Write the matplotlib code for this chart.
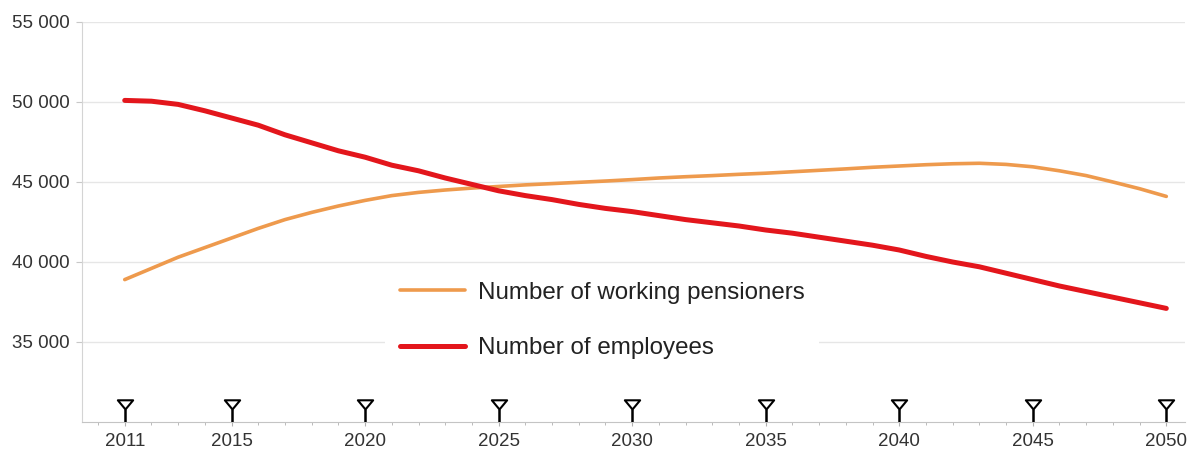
import numpy as np
import matplotlib.pyplot as plt
from matplotlib.path import Path
from matplotlib.ticker import FuncFormatter, MultipleLocator

# values
years = list(range(2011, 2051))
pensioners = [38900, 39600, 40300, 40900, 41500, 42100, 42650, 43100, 43500, 43850,
              44150, 44350, 44500, 44620, 44720, 44820, 44900, 44980, 45060, 45150,
              45250, 45330, 45400, 45480, 45550, 45640, 45730, 45820, 45920, 46000,
              46080, 46140, 46170, 46100, 45950, 45700, 45400, 45000, 44580, 44100]
employees = [50100, 50050, 49850, 49450, 49000, 48550, 47950, 47450, 46950, 46550,
             46050, 45700, 45250, 44850, 44450, 44150, 43900, 43600, 43350, 43150,
             42900, 42650, 42450, 42250, 42000, 41800, 41550, 41300, 41050, 40750,
             40350, 40000, 39700, 39300, 38900, 38500, 38150, 37800, 37450, 37100]
tick_years = [2011, 2015, 2020, 2025, 2030, 2035, 2040, 2045, 2050]
y_ticks = [35000, 40000, 45000, 50000, 55000]
labels = ["Number of working pensioners", "Number of employees"]

plt.rcParams['font.family'] = ['Liberation Sans', 'DejaVu Sans']

fig = plt.figure(figsize=(11.98, 4.5), dpi=100)
ax = fig.add_axes([82 / 1198, 1 - 422 / 450, (1185 - 82) / 1198, 400 / 450])

ax.plot(years, pensioners, color='#ee9a4d', lw=2.6, solid_capstyle='round', label=labels[0], zorder=3)
ax.plot(years, employees, color='#e3161c', lw=3.6, solid_capstyle='round', label=labels[1], zorder=4)

# hollow triangle pins above the axis
tri = Path([(-1.0, 0.55), (1.0, 0.55), (0.0, -0.65), (-1.0, 0.55)],
           [Path.MOVETO, Path.LINETO, Path.LINETO, Path.CLOSEPOLY])
ax.vlines(tick_years, 30000, 30800, color='black', lw=1.8, zorder=5)
ax.plot(tick_years, [31100] * len(tick_years), linestyle='none', marker=tri, markersize=11,
        mfc='white', mec='black', mew=1.5, zorder=6, clip_on=False)

ax.set_xlim(2009.4, 2050.7)
ax.set_ylim(30000, 55000)
ax.set_xticks(tick_years)
ax.xaxis.set_minor_locator(MultipleLocator(1))
ax.set_yticks(y_ticks)
ax.yaxis.set_major_formatter(FuncFormatter(lambda v, p: f"{int(v):,}".replace(",", " ")))

ax.grid(axis='y', color='#e6e6e6', lw=1.0, zorder=0)
for s in ['top', 'right']:
    ax.spines[s].set_visible(False)
ax.spines['left'].set_color('#d4d4d4')
ax.spines['bottom'].set_color('#c4c4c4')
ax.tick_params(axis='y', length=4, color='#c8c8c8', labelsize=13.5, labelcolor='#333333', pad=5)
ax.tick_params(axis='x', which='major', length=3, color='#b0b0b0', labelsize=13.5, labelcolor='#333333', pad=5)
ax.tick_params(axis='x', which='minor', length=2, color='#b0b0b0')

leg = ax.legend(loc='upper left', bbox_to_anchor=(0.264, 0.4175), fontsize=17.4, frameon=True,
                facecolor='white', edgecolor='none', framealpha=1.0, fancybox=False,
                handlelength=2.69, handletextpad=0.54, labelspacing=1.4, borderpad=0.6)
for t in leg.get_texts():
    t.set_color('#222222')
leg.set_zorder(2)

fig.savefig('out.png', dpi=100)
